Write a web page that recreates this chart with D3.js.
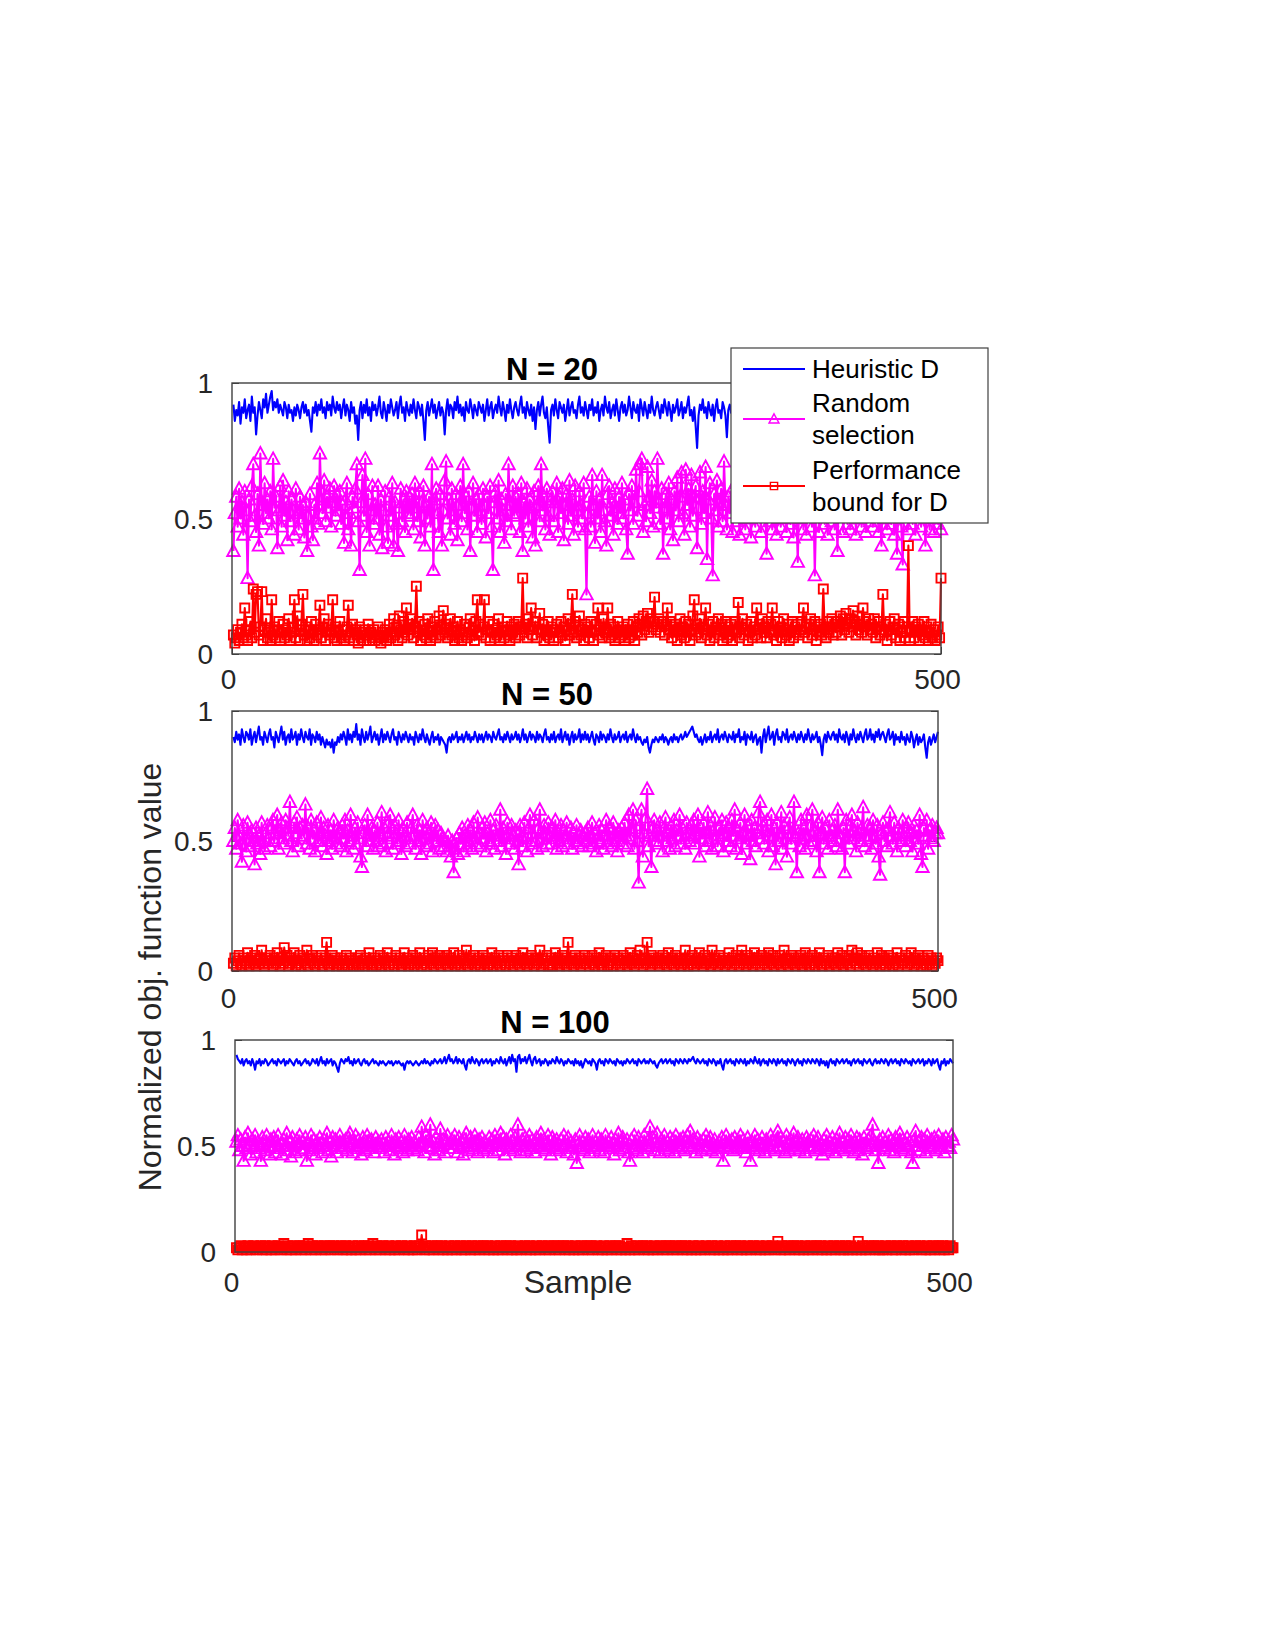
<!DOCTYPE html>
<html>
<head>
<meta charset="utf-8">
<script src="https://cdn.jsdelivr.net/npm/d3@7"></script>
<style>
  html, body { margin: 0; padding: 0; background: #ffffff; }
  svg { display: block; }
  text { font-family: "Liberation Sans", Arial, Helvetica, sans-serif; }
</style>
</head>
<body>
<svg id="chart" width="1275" height="1650"></svg>
<script>
// ---------------- DATA (values read/estimated from the picture) ----------------
const panelTitles = ["N = 20", "N = 50", "N = 100"];
const seriesNames = ["Heuristic D", "Random selection", "Performance bound for D"];
const yTickValues = [0, 0.5, 1];
const yTickLabels = ["0", "0.5", "1"];
const xTickValues = [0, 500];
const xTickLabels = ["0", "500"];
const xLabel = "Sample";
const yLabel = "Normalized obj. function value";

// N = 20
const heuristic20 = [
.92,.86,.90,.88,.93,.85,.91,.89,.94,.87,.90,.92,.86,.95,.89,.91,.81,.88,.93,.90,.87,.94,.91,.96,.89,
.92,.95,.97,.90,.93,.91,.94,.89,.92,.90,.88,.93,.91,.87,.92,.89,.90,.86,.91,.88,.92,.90,.87,.91,.93,
.89,.92,.88,.90,.86,.82,.91,.89,.93,.88,.92,.90,.94,.89,.91,.87,.93,.90,.92,.88,.95,.91,.89,.93,.90,
.92,.87,.91,.94,.88,.92,.90,.86,.93,.89,.91,.85,.88,.79,.90,.93,.87,.92,.89,.94,.88,.91,.86,.93,.90,
.92,.88,.91,.95,.89,.87,.93,.90,.86,.92,.89,.94,.91,.88,.90,.93,.87,.92,.95,.89,.91,.86,.93,.90,.88,
.92,.89,.94,.90,.87,.93,.91,.88,.92,.86,.79,.90,.93,.88,.91,.94,.89,.92,.87,.90,.93,.88,.91,.89,.81,
.90,.94,.88,.92,.91,.87,.93,.90,.95,.89,.92,.88,.91,.86,.93,.90,.89,.94,.91,.87,.92,.90,.88,.93,.91,
.89,.92,.86,.90,.94,.88,.91,.93,.87,.90,.92,.89,.95,.91,.88,.93,.90,.86,.92,.89,.94,.90,.87,.91,.93,
.90,.88,.92,.95,.89,.91,.87,.93,.90,.88,.92,.86,.91,.83,.90,.93,.88,.92,.95,.89,.87,.91,.84,.78,.90,
.92,.88,.94,.90,.87,.93,.91,.89,.92,.86,.90,.94,.88,.91,.93,.89,.90,.87,.92,.95,.89,.91,.88,.93,.90,
.87,.92,.90,.94,.88,.91,.89,.93,.86,.90,.92,.88,.95,.91,.89,.93,.87,.90,.92,.88,.94,.90,.86,.91,.93,
.89,.92,.88,.90,.95,.91,.87,.93,.90,.89,.92,.86,.94,.91,.88,.93,.90,.87,.92,.89,.95,.90,.88,.91,.93,
.90,.87,.92,.89,.94,.91,.88,.93,.90,.86,.92,.89,.91,.94,.88,.90,.93,.87,.91,.89,.92,.95,.88,.90,.86,
.91,.84,.76,.88,.92,.90,.94,.89,.91,.87,.93,.90,.88,.92,.86,.91,.94,.89,.90,.87,.93,.91,.88,.80,.90,
.92,.89,.93,.87,.90,.94,.88,.91,.89,.92,.86,.90,.93,.88,.91,.95,.89,.87,.92,.90,.88,.93,.91,.89,.92,
.88,.90,.94,.89,.91,.87,.93,.90,.88,.92,.86,.91,.89,.95,.90,.88,.92,.87,.93,.91,.89,.90,.94,.88,.91,
.89,.92,.87,.90,.93,.88,.91,.86,.92,.89,.94,.90,.88,.91,.93,.87,.90,.92,.89,.95,.88,.91,.86,.93,.90,
.91,.88,.93,.90,.87,.92,.89,.94,.90,.88,.91,.86,.93,.89,.92,.90,.87,.94,.91,.88,.90,.93,.89,.92,.87,
.90,.93,.88,.91,.89,.95,.90,.87,.92,.88,.91,.94,.89,.90,.86,.92,.89,.93,.91,.88,.90,.87,.92,.89,.94,
.90,.88,.91,.93,.87,.90,.92,.89,.86,.91,.94,.88,.90,.92,.89,.87,.93,.90,.88,.91,.89,.92,.90,.87,.91];
const random20 = [
.38,.52,.58,.47,.61,.50,.56,.44,.60,.53,.28,.57,.49,.62,.70,.51,.45,.59,.40,.74,.55,.48,.63,.52,.57,
.50,.60,.46,.72,.54,.58,.39,.53,.62,.47,.64,.51,.56,.42,.60,.49,.57,.53,.44,.61,.52,.46,.58,.50,.55,
.43,.56,.38,.51,.59,.47,.42,.55,.50,.63,.48,.74,.57,.52,.64,.49,.58,.54,.61,.47,.56,.62,.51,.59,.53,
.60,.48,.55,.41,.57,.63,.46,.52,.40,.58,.54,.61,.70,.49,.31,.56,.66,.51,.72,.45,.59,.40,.53,.62,.48,
.55,.50,.62,.44,.57,.39,.53,.60,.47,.41,.58,.51,.63,.40,.56,.48,.38,.54,.61,.49,.57,.45,.60,.52,.58,
.51,.59,.46,.63,.54,.49,.60,.43,.56,.62,.40,.55,.50,.58,.47,.70,.31,.57,.61,.52,.45,.59,.40,.53,.64,
.71,.50,.57,.44,.61,.53,.48,.59,.42,.55,.62,.49,.70,.52,.58,.46,.60,.38,.54,.63,.51,.57,.45,.59,.53,
.48,.61,.55,.43,.58,.52,.62,.47,.31,.56,.60,.50,.64,.45,.57,.53,.41,.59,.49,.70,.55,.46,.62,.51,.58,
.52,.59,.45,.63,.38,.56,.50,.61,.47,.57,.54,.43,.60,.40,.55,.62,.49,.70,.53,.58,.46,.61,.51,.44,.57,
.60,.49,.56,.63,.45,.58,.52,.61,.42,.55,.59,.48,.64,.51,.57,.44,.62,.53,.47,.60,.55,.50,.63,.46,.22,
.52,.58,.47,.66,.55,.41,.60,.50,.57,.45,.66,.53,.49,.40,.59,.62,.51,.56,.44,.61,.54,.48,.58,.52,.63,
.50,.57,.46,.37,.59,.53,.62,.48,.56,.68,.51,.60,.70,.72,.45,.55,.49,.69,.58,.52,.64,.47,.60,.54,.72,
.56,.48,.61,.37,.54,.59,.50,.63,.46,.57,.42,.60,.53,.65,.49,.58,.67,.52,.44,.68,.55,.61,.47,.66,.51,
.58,.62,.39,.54,.67,.48,.60,.52,.69,.35,.57,.63,.50,.29,.59,.53,.64,.47,.56,.61,.49,.71,.55,.46,.58,
.52,.60,.45,.57,.63,.49,.55,.44,.61,.53,.58,.46,.62,.50,.56,.43,.59,.54,.47,.60,.52,.57,.45,.63,.51,
.55,.37,.58,.49,.61,.46,.56,.52,.44,.60,.53,.47,.62,.50,.57,.45,.59,.54,.48,.61,.43,.56,.52,.34,.58,
.50,.60,.46,.55,.44,.62,.52,.57,.47,.59,.29,.54,.61,.45,.56,.51,.63,.48,.58,.44,.60,.53,.49,.57,.46,
.55,.38,.59,.51,.62,.45,.57,.53,.48,.60,.46,.56,.52,.63,.44,.58,.50,.61,.47,.55,.59,.45,.53,.60,.49,
.56,.47,.61,.52,.58,.45,.54,.40,.60,.50,.57,.46,.62,.53,.48,.59,.44,.55,.37,.61,.51,.47,.33,.58,.52,
.57,.46,.60,.53,.48,.62,.44,.56,.51,.59,.47,.55,.58,.40,.52,.61,.46,.57,.50,.45,.60,.53,.48,.55,.46];
const bound20 = [
.07,.04,.06,.09,.05,.08,.11,.06,.17,.07,.05,.09,.12,.06,.24,.08,.22,.23,.07,.10,.23,.05,.09,.13,.06,
.08,.05,.20,.07,.10,.06,.09,.12,.05,.08,.11,.06,.09,.07,.13,.05,.08,.10,.20,.06,.14,.09,.05,.11,.22,
.07,.10,.05,.09,.06,.12,.08,.05,.11,.07,.09,.18,.06,.10,.13,.05,.08,.11,.07,.09,.20,.06,.10,.05,.08,
.12,.06,.09,.05,.07,.10,.18,.06,.08,.11,.05,.09,.07,.04,.10,.06,.08,.05,.09,.07,.11,.05,.08,.06,.09,
.05,.07,.10,.06,.04,.08,.06,.09,.05,.07,.11,.06,.08,.13,.07,.10,.05,.14,.09,.06,.12,.08,.17,.07,.11,
.09,.13,.06,.10,.25,.08,.12,.05,.09,.07,.11,.06,.13,.08,.05,.10,.07,.12,.06,.09,.14,.07,.10,.16,.08,
.11,.06,.09,.13,.07,.10,.05,.08,.12,.06,.09,.05,.07,.11,.08,.06,.10,.13,.07,.09,.05,.12,.20,.08,.11,
.07,.10,.20,.06,.09,.12,.05,.08,.11,.06,.09,.07,.13,.05,.08,.10,.06,.09,.12,.07,.05,.10,.08,.11,.06,
.09,.12,.07,.10,.28,.08,.11,.06,.13,.09,.17,.07,.10,.12,.06,.09,.15,.08,.11,.05,.09,.07,.12,.06,.10,
.08,.05,.09,.11,.06,.08,.12,.07,.10,.05,.09,.13,.07,.11,.22,.08,.12,.06,.10,.14,.07,.09,.05,.11,.08,
.10,.06,.12,.08,.05,.09,.11,.17,.07,.10,.06,.13,.08,.09,.17,.06,.11,.07,.10,.05,.08,.12,.06,.09,.07,
.10,.05,.08,.11,.06,.09,.07,.12,.05,.10,.08,.13,.11,.07,.14,.09,.12,.15,.08,.13,.10,.12,.21,.09,.11,
.13,.08,.10,.12,.07,.11,.17,.09,.12,.06,.10,.08,.11,.05,.09,.13,.07,.10,.06,.12,.08,.11,.05,.09,.14,
.20,.07,.11,.08,.13,.06,.10,.09,.17,.07,.11,.05,.08,.12,.06,.10,.09,.13,.07,.11,.05,.08,.12,.06,.10,
.07,.11,.05,.09,.12,.08,.19,.06,.10,.13,.07,.09,.11,.05,.08,.12,.06,.10,.07,.17,.09,.11,.06,.13,.08,
.10,.06,.12,.08,.11,.17,.07,.09,.05,.12,.08,.10,.06,.13,.09,.07,.11,.05,.08,.12,.06,.10,.08,.11,.07,
.09,.12,.17,.08,.10,.06,.11,.13,.07,.09,.12,.05,.10,.08,.11,.07,.24,.09,.06,.12,.08,.10,.13,.07,.11,
.08,.12,.10,.14,.07,.13,.09,.15,.11,.08,.13,.10,.16,.12,.07,.14,.09,.11,.08,.17,.10,.12,.07,.13,.09,
.11,.08,.13,.06,.10,.12,.07,.09,.22,.08,.11,.05,.09,.12,.07,.10,.13,.06,.09,.11,.05,.08,.10,.12,.06,
.08,.40,.05,.09,.12,.06,.10,.08,.11,.05,.09,.07,.12,.06,.10,.05,.08,.11,.06,.09,.05,.07,.10,.06,.28];

// N = 50
const heuristic50 = [
.90,.88,.92,.89,.91,.87,.93,.90,.88,.92,.91,.89,.93,.87,.90,.92,.88,.91,.94,.89,.90,.87,.92,.90,.88,
.91,.93,.89,.90,.86,.92,.90,.88,.91,.94,.89,.92,.87,.90,.91,.88,.93,.89,.90,.92,.87,.91,.89,.93,.90,
.88,.92,.90,.89,.93,.87,.91,.90,.88,.92,.89,.91,.87,.90,.88,.86,.89,.87,.88,.86,.89,.84,.88,.87,.90,
.88,.91,.89,.92,.90,.87,.93,.89,.91,.88,.92,.90,.95,.89,.91,.87,.93,.90,.88,.92,.89,.91,.94,.88,.90,
.92,.89,.91,.87,.90,.93,.88,.91,.89,.92,.90,.88,.91,.93,.89,.90,.87,.92,.90,.88,.91,.89,.92,.90,.88,
.91,.89,.90,.87,.92,.90,.88,.91,.89,.93,.90,.88,.91,.89,.87,.90,.92,.88,.90,.89,.91,.87,.90,.89,.88,
.87,.84,.89,.90,.88,.91,.89,.90,.92,.88,.90,.89,.91,.88,.90,.92,.89,.91,.88,.90,.89,.92,.90,.88,.91,
.89,.91,.88,.90,.92,.89,.91,.90,.88,.92,.90,.89,.91,.93,.89,.90,.88,.91,.89,.92,.90,.88,.91,.89,.90,
.92,.89,.91,.88,.90,.93,.89,.91,.88,.90,.92,.89,.91,.90,.88,.92,.89,.91,.90,.88,.91,.93,.89,.90,.88,
.91,.89,.92,.88,.90,.91,.89,.93,.88,.90,.92,.89,.91,.87,.90,.92,.88,.91,.89,.90,.93,.88,.91,.89,.92,
.89,.91,.88,.90,.92,.89,.87,.91,.90,.88,.92,.89,.91,.90,.88,.91,.89,.93,.90,.88,.91,.89,.90,.92,.88,
.90,.91,.89,.92,.88,.90,.91,.89,.93,.90,.88,.91,.89,.90,.88,.87,.89,.88,.90,.86,.84,.87,.89,.88,.90,
.89,.88,.90,.89,.91,.88,.90,.89,.87,.89,.90,.88,.91,.89,.90,.88,.90,.91,.89,.90,.92,.90,.91,.92,.93,
.94,.92,.90,.91,.89,.88,.90,.87,.89,.91,.88,.90,.89,.92,.88,.90,.91,.89,.93,.88,.90,.91,.89,.92,.90,
.88,.91,.90,.89,.92,.88,.91,.90,.93,.88,.90,.89,.92,.87,.91,.90,.89,.92,.88,.90,.91,.87,.89,.90,.84,
.90,.93,.88,.91,.94,.89,.90,.92,.87,.91,.93,.89,.90,.88,.92,.91,.89,.93,.88,.90,.91,.89,.92,.90,.88,
.91,.89,.92,.90,.88,.91,.89,.93,.90,.88,.91,.89,.90,.92,.88,.90,.87,.83,.89,.91,.88,.92,.90,.89,.91,
.92,.89,.91,.88,.93,.90,.89,.91,.88,.92,.90,.87,.91,.89,.93,.90,.88,.91,.89,.92,.90,.88,.91,.93,.89,
.90,.93,.89,.91,.88,.92,.90,.93,.89,.91,.92,.90,.88,.91,.93,.89,.90,.92,.87,.91,.89,.90,.88,.92,.89,
.90,.87,.91,.89,.88,.92,.90,.86,.89,.91,.87,.90,.88,.89,.91,.86,.82,.88,.90,.87,.89,.91,.88,.90,.92];
const random50 = [
.50,.55,.47,.58,.52,.49,.42,.56,.51,.46,.57,.53,.48,.54,.50,.41,.55,.49,.52,.45,.57,.50,.47,.53,.56,
.51,.48,.55,.58,.50,.53,.60,.47,.54,.57,.51,.49,.58,.55,.52,.65,.50,.46,.57,.53,.59,.48,.55,.51,.56,
.52,.64,.49,.55,.47,.58,.51,.54,.46,.57,.50,.53,.59,.48,.55,.52,.45,.56,.50,.54,.47,.58,.51,.49,.55,
.53,.48,.56,.51,.58,.46,.54,.50,.60,.52,.47,.55,.49,.57,.51,.44,.40,.53,.56,.48,.60,.52,.50,.55,.47,
.54,.50,.57,.48,.53,.61,.49,.55,.46,.52,.57,.60,.51,.47,.56,.53,.49,.58,.50,.45,.55,.52,.48,.57,.51,
.49,.55,.60,.52,.47,.56,.50,.54,.45,.58,.51,.48,.55,.53,.49,.57,.46,.52,.56,.50,.54,.47,.53,.51,.48,
.50,.46,.52,.48,.44,.50,.38,.47,.51,.45,.53,.49,.55,.46,.52,.48,.56,.50,.54,.47,.57,.51,.49,.59,.53,
.48,.55,.51,.57,.46,.53,.50,.58,.49,.54,.47,.56,.52,.50,.62,.48,.55,.51,.45,.57,.53,.49,.56,.52,.47,
.54,.50,.41,.56,.52,.48,.57,.51,.46,.55,.60,.49,.53,.58,.50,.47,.55,.62,.51,.48,.56,.53,.49,.57,.52,
.49,.55,.51,.58,.47,.53,.50,.56,.48,.54,.52,.57,.49,.51,.55,.47,.53,.50,.56,.49,.52,.54,.48,.51,.53,
.50,.55,.48,.52,.57,.49,.53,.46,.51,.56,.50,.54,.47,.52,.58,.49,.55,.51,.48,.57,.53,.50,.46,.54,.52,
.55,.49,.57,.52,.48,.60,.51,.55,.62,.47,.58,.50,.34,.56,.62,.44,.53,.59,.70,.48,.52,.40,.55,.58,.50,
.54,.49,.57,.52,.46,.55,.59,.50,.53,.47,.56,.51,.58,.48,.54,.52,.60,.49,.55,.51,.47,.57,.53,.50,.56,
.52,.58,.49,.54,.60,.44,.55,.51,.57,.48,.53,.61,.50,.56,.47,.54,.59,.51,.48,.55,.52,.58,.46,.53,.57,
.50,.55,.48,.58,.52,.62,.47,.54,.51,.57,.45,.53,.60,.49,.56,.52,.43,.58,.50,.55,.48,.53,.61,.65,.51,
.56,.49,.54,.58,.46,.52,.60,.48,.55,.41,.57,.50,.53,.61,.47,.56,.51,.44,.55,.59,.49,.53,.65,.52,.38,
.53,.48,.58,.51,.55,.47,.60,.52,.49,.56,.62,.50,.54,.46,.57,.38,.53,.59,.49,.55,.51,.47,.58,.52,.54,
.50,.56,.48,.62,.53,.51,.47,.55,.38,.58,.52,.49,.56,.60,.51,.54,.46,.57,.53,.50,.55,.63,.48,.52,.56,
.51,.55,.47,.58,.52,.49,.56,.44,.37,.53,.57,.50,.54,.48,.55,.61,.52,.49,.57,.51,.46,.55,.53,.50,.58,
.52,.48,.55,.57,.50,.53,.46,.56,.51,.54,.49,.60,.45,.40,.55,.52,.58,.47,.54,.51,.56,.50,.53,.55,.53];
const bound50 = [
.03,.05,.02,.04,.06,.03,.02,.05,.04,.03,.07,.02,.04,.05,.03,.06,.02,.04,.03,.05,.08,.03,.02,.04,.05,
.03,.06,.04,.02,.05,.03,.07,.04,.02,.05,.03,.09,.04,.06,.02,.03,.05,.04,.07,.02,.04,.03,.06,.02,.05,
.04,.03,.08,.02,.05,.04,.06,.03,.02,.05,.04,.03,.06,.02,.04,.05,.11,.03,.02,.04,.06,.03,.05,.02,.04,
.03,.05,.02,.04,.03,.06,.02,.04,.05,.03,.02,.04,.03,.05,.02,.06,.03,.04,.02,.05,.03,.07,.04,.02,.03,
.05,.02,.04,.03,.06,.02,.05,.04,.03,.07,.02,.04,.05,.03,.02,.06,.04,.03,.05,.02,.04,.07,.03,.05,.02,
.04,.03,.06,.02,.05,.03,.04,.07,.02,.04,.03,.05,.02,.06,.04,.03,.07,.02,.05,.04,.03,.06,.02,.04,.05,
.03,.06,.02,.04,.05,.03,.07,.02,.04,.03,.06,.02,.05,.04,.03,.08,.02,.04,.05,.03,.06,.02,.04,.03,.05,
.02,.04,.06,.03,.05,.02,.04,.03,.07,.02,.05,.04,.03,.06,.02,.04,.05,.03,.02,.06,.04,.03,.05,.02,.04,
.06,.03,.04,.02,.05,.07,.03,.04,.02,.05,.03,.06,.04,.02,.05,.03,.04,.08,.02,.05,.03,.04,.06,.02,.03,
.05,.02,.04,.07,.03,.05,.02,.04,.06,.03,.05,.02,.11,.04,.03,.05,.02,.06,.04,.03,.05,.02,.04,.03,.06,
.03,.05,.02,.04,.06,.03,.02,.05,.04,.07,.03,.02,.05,.04,.06,.02,.03,.05,.04,.02,.06,.03,.05,.04,.02,
.04,.06,.03,.05,.02,.04,.07,.03,.05,.02,.04,.06,.03,.08,.04,.02,.05,.03,.11,.04,.02,.06,.03,.05,.04,
.03,.05,.02,.04,.06,.03,.05,.02,.07,.04,.03,.05,.02,.06,.04,.03,.05,.02,.04,.03,.08,.04,.02,.05,.03,
.06,.02,.04,.03,.05,.07,.03,.04,.02,.06,.03,.05,.04,.02,.08,.03,.05,.04,.02,.06,.03,.04,.05,.02,.04,
.03,.07,.04,.02,.05,.03,.06,.04,.02,.05,.08,.03,.04,.02,.06,.03,.05,.04,.02,.07,.03,.05,.04,.02,.06,
.04,.03,.05,.02,.07,.04,.03,.06,.02,.05,.04,.03,.06,.02,.04,.08,.03,.05,.02,.04,.06,.03,.05,.02,.04,
.05,.03,.06,.02,.04,.07,.03,.05,.02,.04,.06,.03,.02,.05,.04,.07,.03,.02,.05,.04,.03,.06,.02,.04,.05,
.03,.05,.02,.07,.04,.03,.06,.02,.05,.04,.03,.06,.02,.08,.04,.05,.03,.07,.02,.04,.06,.03,.05,.02,.04,
.06,.03,.04,.02,.05,.03,.07,.04,.02,.06,.03,.05,.02,.04,.06,.03,.05,.02,.04,.03,.07,.02,.05,.04,.03,
.04,.06,.02,.05,.03,.07,.04,.02,.05,.03,.06,.04,.02,.05,.03,.04,.02,.06,.03,.05,.02,.04,.03,.05,.04];

// N = 100
const heuristic100 = [
.93,.91,.90,.89,.91,.88,.90,.91,.89,.90,.88,.91,.89,.86,.90,.89,.91,.88,.90,.89,.91,.90,.88,.89,.90,
.91,.89,.90,.88,.91,.90,.89,.90,.91,.88,.90,.89,.91,.90,.89,.88,.90,.91,.89,.90,.88,.89,.90,.91,.89,
.90,.88,.89,.91,.90,.89,.91,.88,.90,.92,.89,.90,.88,.91,.89,.90,.91,.88,.90,.89,.87,.85,.89,.91,.90,
.89,.91,.90,.92,.89,.90,.88,.91,.89,.90,.91,.89,.88,.90,.91,.89,.90,.88,.89,.90,.91,.89,.90,.89,.88,
.90,.89,.90,.89,.88,.89,.90,.89,.90,.88,.89,.90,.89,.90,.89,.88,.89,.86,.89,.90,.89,.90,.89,.88,.89,
.90,.89,.88,.89,.90,.89,.91,.89,.90,.89,.88,.90,.89,.91,.90,.89,.90,.91,.89,.90,.92,.89,.91,.93,.90,
.91,.89,.90,.92,.89,.91,.90,.89,.91,.88,.86,.90,.91,.89,.92,.90,.89,.91,.90,.88,.90,.91,.89,.90,.91,
.89,.90,.91,.88,.90,.89,.91,.90,.89,.92,.90,.89,.91,.88,.90,.92,.89,.93,.90,.91,.85,.92,.93,.89,.91,
.90,.92,.89,.91,.93,.90,.88,.91,.92,.89,.90,.91,.88,.90,.89,.91,.90,.88,.90,.89,.91,.90,.89,.92,.90,
.89,.91,.90,.88,.90,.89,.91,.90,.89,.90,.88,.91,.89,.90,.88,.90,.87,.89,.91,.90,.89,.90,.88,.91,.90,
.89,.86,.90,.91,.89,.90,.88,.91,.90,.89,.91,.90,.89,.90,.88,.91,.90,.89,.90,.88,.90,.89,.91,.90,.89,
.90,.91,.89,.90,.88,.91,.90,.89,.90,.91,.89,.90,.89,.91,.90,.89,.90,.88,.87,.89,.90,.91,.89,.90,.91,
.89,.90,.91,.89,.90,.88,.91,.90,.89,.91,.90,.89,.91,.90,.89,.91,.90,.91,.92,.90,.89,.91,.90,.89,.90,
.91,.89,.90,.88,.91,.90,.89,.91,.90,.88,.90,.89,.91,.88,.86,.90,.91,.89,.90,.91,.89,.90,.88,.91,.90,
.89,.91,.90,.89,.91,.88,.90,.89,.91,.90,.89,.92,.90,.89,.91,.88,.90,.91,.89,.90,.88,.91,.90,.89,.91,
.90,.88,.91,.89,.90,.91,.89,.90,.88,.91,.90,.89,.91,.90,.88,.90,.91,.89,.90,.88,.91,.90,.89,.91,.90,
.89,.91,.90,.89,.91,.90,.88,.91,.89,.90,.88,.90,.87,.90,.91,.89,.90,.88,.91,.90,.89,.90,.91,.89,.90,
.91,.89,.90,.88,.90,.91,.89,.90,.91,.89,.90,.88,.91,.90,.89,.90,.91,.89,.88,.90,.91,.89,.90,.89,.91,
.90,.89,.91,.90,.88,.90,.91,.89,.90,.91,.89,.90,.88,.91,.90,.89,.91,.90,.89,.90,.88,.91,.90,.89,.90,
.91,.89,.90,.91,.88,.90,.89,.91,.90,.88,.91,.89,.90,.91,.88,.86,.90,.89,.91,.88,.90,.89,.91,.90,.89];
const random100 = [
.52,.55,.48,.53,.50,.43,.54,.49,.56,.51,.46,.53,.50,.55,.47,.52,.49,.43,.54,.51,.48,.55,.50,.46,.53,
.50,.54,.47,.52,.55,.49,.51,.46,.53,.50,.56,.48,.52,.45,.54,.50,.47,.53,.51,.55,.48,.52,.49,.54,.43,
.51,.48,.55,.50,.53,.46,.52,.49,.54,.51,.47,.53,.50,.56,.48,.52,.45,.54,.50,.53,.47,.51,.55,.49,.52,
.50,.53,.48,.54,.56,.51,.47,.52,.55,.49,.53,.50,.46,.54,.51,.48,.55,.52,.49,.53,.50,.47,.54,.51,.52,
.49,.53,.51,.47,.54,.50,.52,.48,.55,.51,.46,.53,.50,.54,.49,.52,.47,.55,.51,.48,.53,.50,.54,.49,.52,
.51,.48,.54,.50,.59,.52,.47,.55,.50,.53,.60,.49,.52,.46,.54,.51,.48,.58,.50,.53,.47,.52,.55,.49,.51,
.53,.49,.55,.51,.47,.54,.50,.52,.46,.53,.56,.50,.48,.54,.51,.49,.55,.52,.47,.53,.50,.54,.48,.52,.51,
.49,.54,.50,.53,.47,.55,.51,.48,.52,.56,.50,.54,.46,.53,.51,.49,.55,.52,.48,.54,.50,.60,.51,.47,.53,
.50,.54,.48,.52,.55,.49,.53,.51,.47,.54,.50,.52,.56,.49,.53,.48,.51,.55,.50,.46,.54,.52,.49,.53,.51,
.48,.53,.50,.55,.51,.47,.54,.49,.52,.50,.46,.53,.42,.51,.55,.49,.52,.48,.54,.50,.53,.47,.51,.55,.49,
.52,.50,.54,.48,.53,.51,.47,.55,.50,.52,.49,.54,.51,.46,.53,.50,.56,.48,.52,.54,.49,.51,.53,.47,.43,
.53,.49,.55,.51,.48,.54,.50,.52,.47,.55,.51,.49,.53,.59,.50,.54,.48,.52,.56,.50,.47,.53,.51,.55,.49,
.52,.48,.54,.50,.53,.47,.55,.51,.49,.53,.50,.54,.48,.52,.55,.50,.57,.49,.53,.51,.47,.54,.50,.52,.48,
.53,.50,.55,.49,.52,.54,.48,.51,.53,.47,.50,.52,.49,.54,.43,.51,.55,.49,.52,.50,.53,.48,.54,.51,.49,
.52,.55,.49,.53,.50,.47,.54,.51,.43,.52,.49,.55,.50,.53,.48,.51,.54,.50,.47,.53,.51,.49,.55,.52,.50,
.48,.53,.57,.50,.54,.49,.52,.47,.55,.51,.48,.53,.50,.56,.49,.52,.54,.48,.51,.53,.50,.47,.54,.52,.49,
.53,.50,.55,.48,.52,.54,.49,.51,.46,.53,.50,.55,.48,.52,.49,.54,.51,.47,.53,.50,.56,.49,.52,.48,.54,
.50,.53,.49,.55,.51,.47,.52,.54,.48,.53,.50,.46,.54,.51,.49,.53,.50,.55,.60,.52,.48,.51,.42,.53,.50,
.54,.49,.52,.50,.55,.48,.53,.51,.47,.54,.50,.52,.56,.49,.53,.48,.51,.54,.50,.52,.47,.42,.53,.57,.50,
.52,.48,.54,.50,.53,.47,.55,.51,.49,.53,.50,.54,.48,.52,.55,.49,.51,.53,.47,.54,.50,.52,.49,.55,.53];
const bound100 = [
.02,.01,.02,.03,.01,.02,.02,.01,.03,.02,.01,.02,.03,.02,.01,.02,.02,.03,.01,.02,.03,.01,.02,.02,.01,
.03,.02,.01,.02,.03,.02,.01,.02,.04,.02,.01,.03,.02,.01,.02,.03,.01,.02,.02,.03,.01,.02,.03,.01,.02,
.04,.02,.01,.03,.02,.01,.02,.03,.02,.01,.02,.03,.01,.02,.02,.03,.01,.02,.03,.02,.01,.02,.02,.03,.01,
.02,.03,.01,.02,.02,.01,.03,.02,.01,.02,.03,.01,.02,.02,.03,.01,.02,.03,.01,.02,.04,.02,.01,.03,.02,
.01,.02,.03,.02,.01,.02,.03,.01,.02,.02,.01,.03,.02,.01,.02,.03,.02,.01,.02,.03,.01,.02,.02,.01,.03,
.02,.01,.03,.02,.08,.02,.01,.03,.02,.01,.02,.03,.01,.02,.02,.03,.01,.02,.03,.01,.02,.02,.01,.03,.02,
.01,.02,.03,.01,.02,.02,.03,.01,.02,.01,.03,.02,.02,.01,.03,.02,.01,.02,.03,.01,.02,.02,.03,.01,.02,
.03,.01,.02,.02,.01,.03,.02,.01,.02,.03,.01,.02,.02,.03,.01,.02,.03,.01,.02,.02,.01,.03,.02,.01,.02,
.02,.03,.01,.02,.03,.01,.02,.02,.01,.03,.02,.01,.02,.03,.02,.01,.02,.03,.01,.02,.02,.03,.01,.02,.03,
.01,.02,.02,.03,.01,.02,.03,.01,.02,.02,.01,.03,.02,.01,.02,.03,.01,.02,.02,.03,.01,.02,.03,.01,.02,
.02,.03,.01,.02,.02,.01,.03,.02,.01,.02,.03,.01,.02,.02,.03,.01,.02,.03,.01,.02,.02,.01,.04,.02,.01,
.03,.02,.01,.02,.03,.01,.02,.02,.03,.01,.02,.03,.01,.02,.02,.01,.03,.02,.01,.02,.03,.02,.01,.02,.03,
.01,.02,.03,.02,.01,.02,.03,.01,.02,.02,.03,.01,.02,.03,.01,.02,.02,.01,.03,.02,.01,.02,.03,.01,.02,
.02,.01,.03,.02,.02,.01,.03,.02,.01,.02,.03,.01,.02,.02,.01,.03,.02,.01,.02,.03,.01,.02,.02,.03,.01,
.02,.03,.01,.02,.02,.01,.03,.02,.01,.02,.03,.02,.01,.02,.03,.01,.02,.02,.01,.03,.02,.01,.02,.03,.02,
.01,.02,.05,.02,.01,.03,.02,.01,.02,.03,.01,.02,.02,.03,.01,.02,.03,.01,.02,.02,.01,.03,.02,.01,.02,
.03,.01,.02,.02,.03,.01,.02,.03,.01,.02,.02,.01,.03,.02,.01,.02,.03,.01,.02,.02,.03,.01,.02,.01,.03,
.02,.01,.02,.03,.01,.02,.02,.01,.05,.02,.01,.03,.02,.01,.02,.03,.01,.02,.02,.03,.01,.02,.03,.01,.02,
.01,.02,.03,.01,.02,.02,.03,.01,.02,.01,.03,.02,.02,.01,.03,.02,.01,.02,.03,.01,.02,.02,.01,.03,.02,
.02,.03,.01,.02,.02,.01,.03,.02,.01,.02,.03,.01,.02,.02,.03,.01,.02,.03,.01,.02,.02,.01,.03,.02,.02];

// ---------------- LAYOUT / STYLE ----------------
const FONT = '"Liberation Sans", Arial, Helvetica, sans-serif';
const colors = ["#0000ff", "#ff00ff", "#ff0000"];
const markerKinds = [null, "triangle", "square"];
const axisColor = "#404040";
const tickTextColor = "#262626";

const panelLayout = [
  { left: 232, right: 941, top: 383, bottom: 654, titleX: 552, titleY: 380, xTickY: 689 },
  { left: 232, right: 938, top: 711, bottom: 971, titleX: 547, titleY: 705, xTickY: 1008 },
  { left: 235, right: 953, top: 1040, bottom: 1252, titleX: 555, titleY: 1033, xTickY: 1292 }
];
const panelSeries = [
  [heuristic20, random20, bound20],
  [heuristic50, random50, bound50],
  [heuristic100, random100, bound100]
];

const svg = d3.select("#chart");

function markerPath(kind) {
  if (kind === "triangle") {
    // MATLAB '^' marker
    return "M0,-6.5L6.2,5L-6.2,5Z";
  }
  if (kind === "square") {
    return "M-4.5,-4.5H4.5V4.5H-4.5Z";
  }
  return null;
}

panelLayout.forEach((L, pi) => {
  const g = svg.append("g");
  const x = d3.scaleLinear().domain([0, 500]).range([L.left, L.right]);
  const y = d3.scaleLinear().domain([0, 1]).range([L.bottom, L.top]);

  g.append("rect")
    .attr("x", L.left).attr("y", L.top)
    .attr("width", L.right - L.left).attr("height", L.bottom - L.top)
    .attr("fill", "#fff");

  // y axis (ticks inward)
  const yAxis = d3.axisLeft(y)
    .tickValues(yTickValues)
    .tickFormat((d, i) => yTickLabels[i])
    .tickSizeInner(-7).tickSizeOuter(0).tickPadding(19);
  const yg = g.append("g").attr("transform", `translate(${L.left},0)`).call(yAxis);
  yg.select(".domain").remove();
  yg.selectAll("line").attr("stroke", axisColor);
  yg.selectAll("text")
    .attr("font-family", FONT).attr("font-size", 28)
    .attr("fill", tickTextColor).attr("dy", "0.35em");

  const yAxisR = d3.axisRight(y).tickValues(yTickValues).tickFormat("")
    .tickSizeInner(-7).tickSizeOuter(0);
  const ygr = g.append("g").attr("transform", `translate(${L.right},0)`).call(yAxisR);
  ygr.select(".domain").remove();
  ygr.selectAll("line").attr("stroke", axisColor);

  // x axis
  const xAxis = d3.axisBottom(x)
    .tickValues(xTickValues)
    .tickFormat((d, i) => xTickLabels[i])
    .tickSizeInner(-7).tickSizeOuter(0).tickPadding(0);
  const xg = g.append("g").attr("transform", `translate(0,${L.bottom})`).call(xAxis);
  xg.select(".domain").remove();
  xg.selectAll("line").attr("stroke", axisColor);
  xg.selectAll("text")
    .attr("font-family", FONT).attr("font-size", 28)
    .attr("fill", tickTextColor)
    .attr("y", L.xTickY - L.bottom).attr("dy", 0).attr("dx", -4);

  // data series
  const series = panelSeries[pi];
  series.forEach((vals, si) => {
    const pts = vals.map((v, i) => [i + 1, v]);
    const line = d3.line().x(d => x(d[0])).y(d => y(d[1]));
    g.append("path")
      .datum(pts)
      .attr("d", line)
      .attr("fill", "none")
      .attr("stroke", colors[si])
      .attr("stroke-width", 2.1)
      .attr("stroke-linejoin", "round");
    const mk = markerPath(markerKinds[si]);
    if (mk) {
      g.append("g").selectAll("path")
        .data(pts)
        .join("path")
        .attr("d", mk)
        .attr("transform", d => `translate(${x(d[0])},${y(d[1])})`)
        .attr("fill", "none")
        .attr("stroke", colors[si])
        .attr("stroke-width", 1.9);
    }
  });

  // box
  g.append("rect")
    .attr("x", L.left).attr("y", L.top)
    .attr("width", L.right - L.left).attr("height", L.bottom - L.top)
    .attr("fill", "none").attr("stroke", axisColor).attr("stroke-width", 1.4);

  // title
  g.append("text")
    .attr("x", L.titleX).attr("y", L.titleY)
    .attr("text-anchor", "middle")
    .attr("font-family", FONT).attr("font-size", 31).attr("font-weight", "bold")
    .attr("fill", "#000")
    .text(panelTitles[pi]);
});

// axis labels
svg.append("text")
  .attr("x", 578).attr("y", 1293)
  .attr("text-anchor", "middle")
  .attr("font-family", FONT).attr("font-size", 32)
  .attr("fill", tickTextColor)
  .text(xLabel);

svg.append("text")
  .attr("transform", "translate(161,977) rotate(-90)")
  .attr("text-anchor", "middle")
  .attr("font-family", FONT).attr("font-size", 32)
  .attr("fill", tickTextColor)
  .text(yLabel);

// legend
const legend = svg.append("g");
legend.append("rect")
  .attr("x", 731).attr("y", 348).attr("width", 257).attr("height", 175)
  .attr("fill", "#fff").attr("stroke", axisColor).attr("stroke-width", 1.2);

const legendRows = [
  { lineY: 369, lines: ["Heuristic D"], textY: [378] },
  { lineY: 419, lines: ["Random", "selection"], textY: [412, 444] },
  { lineY: 486, lines: ["Performance", "bound for D"], textY: [479, 511] }
];
legendRows.forEach((r, i) => {
  legend.append("line")
    .attr("x1", 743).attr("x2", 805).attr("y1", r.lineY).attr("y2", r.lineY)
    .attr("stroke", colors[i]).attr("stroke-width", 2);
  const mk = markerPath(markerKinds[i]);
  if (mk) {
    legend.append("path").attr("d", mk)
      .attr("transform", `translate(774,${r.lineY}) scale(0.8)`)
      .attr("fill", "none").attr("stroke", colors[i]).attr("stroke-width", 1.8);
  }
  r.lines.forEach((t, j) => {
    legend.append("text")
      .attr("x", 812).attr("y", r.textY[j])
      .attr("font-family", FONT).attr("font-size", 26)
      .attr("fill", "#000")
      .text(t);
  });
});
</script>
</body>
</html>
